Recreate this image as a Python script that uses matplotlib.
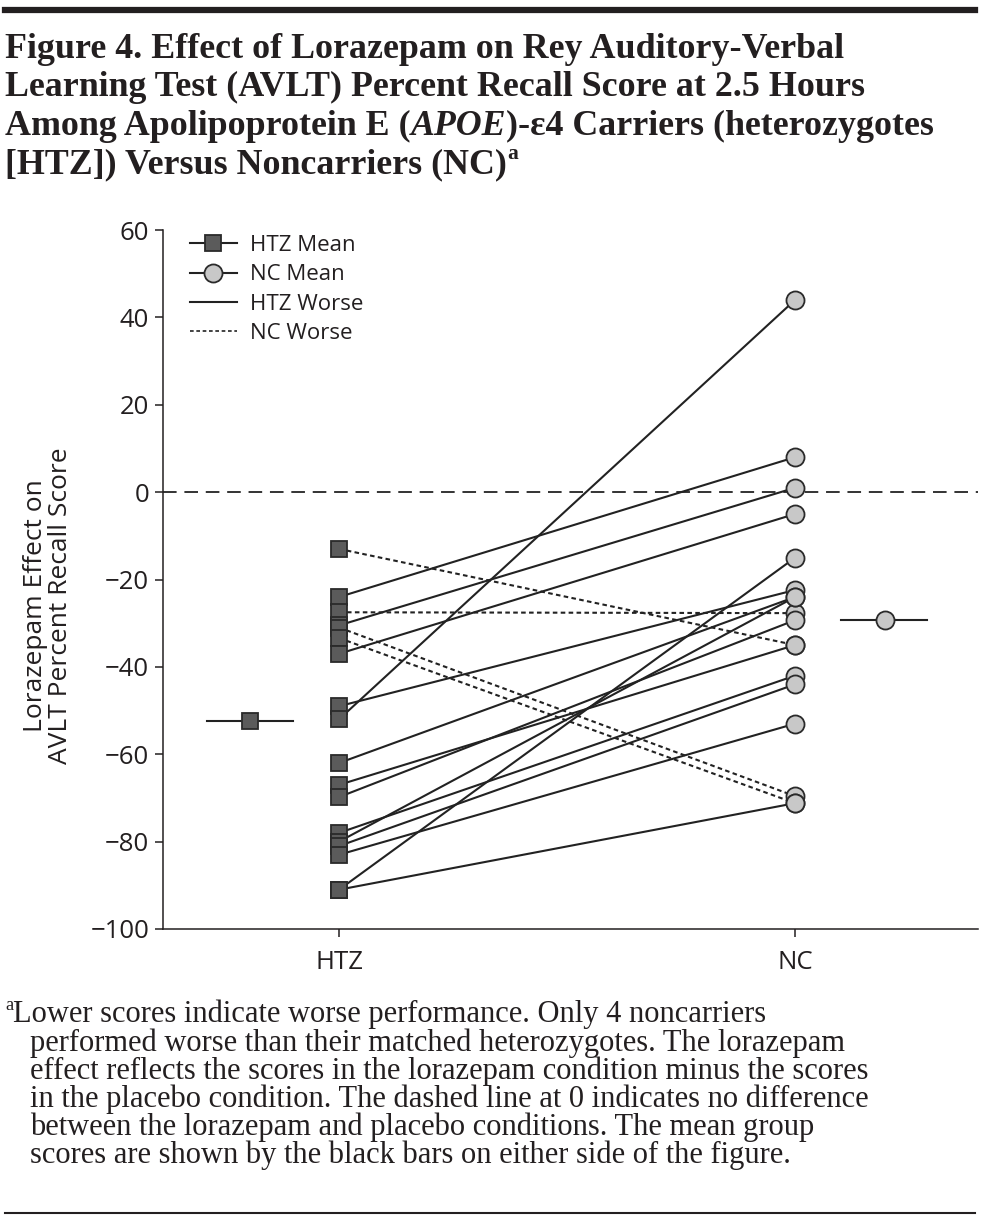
import numpy as np
import matplotlib
matplotlib.use("Agg")
import matplotlib.pyplot as plt
from matplotlib.lines import Line2D
from matplotlib.legend_handler import HandlerLine2D

# values (lorazepam minus placebo, % recall)
groups = ["HTZ", "NC"]
htz_scores = [-13, -24, -27.5, -30.5, -31, -33.4, -37, -49, -52, -62, -67, -69.8,
              -78, -80, -81, -83, -91, -91]
nc_scores = [-35, 8, -27.7, 1, -69.6, -71.2, -5, -22.4, 44, -24, -35, -29.3,
             -42, -24, -44, -53, -15, -71.2]
htz_mean = -52.3
nc_mean = -29.2
yticks = [-100, -80, -60, -40, -20, 0, 20, 40, 60]

title_lines = [
    [("Figure 4. Effect of Lorazepam on Rey Auditory-Verbal", {})],
    [("Learning Test (AVLT) Percent Recall Score at 2.5 Hours", {})],
    [("Among Apolipoprotein E (", {}), ("APOE", {"style": "italic"}),
     (")-\u03b54 Carriers (heterozygotes", {})],
    [("[HTZ]) Versus Noncarriers (NC)", {}), ("a", {"sup": True})],
]
note_lines = [
    "Lower scores indicate worse performance. Only 4 noncarriers",
    "performed worse than their matched heterozygotes. The lorazepam",
    "effect reflects the scores in the lorazepam condition minus the scores",
    "in the placebo condition. The dashed line at 0 indicates no difference",
    "between the lorazepam and placebo conditions. The mean group",
    "scores are shown by the black bars on either side of the figure.",
]

W, H = 984, 1225
SANS = ["Open Sans", "DejaVu Sans"]
SERIF = ["Liberation Serif", "DejaVu Serif"]
INK = "#231f20"

fig = plt.figure(figsize=(W / 100, H / 100), dpi=100)
renderer = fig.canvas.get_renderer()


def px(x, y):
    return x / W, 1 - y / H


def rich(x, y, parts, size, weight="normal"):
    # draw text pieces one after another on a baseline (pixel coords)
    for txt, opt in parts:
        fs = size * 0.6 if opt.get("sup") else size
        yy = y - size * 0.55 if opt.get("sup") else y
        t = fig.text(*px(x, yy), txt, fontsize=fs, family=SERIF, color=INK,
                     weight=weight, style=opt.get("style", "normal"),
                     va="baseline", ha="left")
        x = t.get_window_extent(renderer).x1


class ShortLine(HandlerLine2D):
    # line-only legend keys are drawn shorter than the marker keys
    def create_artists(self, legend, orig_handle, xdescent, ydescent, width,
                       height, fontsize, trans):
        arts = super().create_artists(legend, orig_handle, xdescent, ydescent,
                                      width, height, fontsize, trans)
        pad = 0.2 * width
        for a in arts:
            x = a.get_xdata()
            if len(x) == 2:
                a.set_xdata([x[0] + pad, x[1] - pad])
        return arts


# rules
fig.add_artist(Line2D([5 / W, 975 / W], [1 - 10 / H] * 2, color=INK, lw=4.5))
fig.add_artist(Line2D([5 / W, 975 / W], [1 - 1213 / H] * 2, color=INK, lw=1.5))

for i, parts in enumerate(title_lines):
    rich(5, 58 + i * 38.5, parts, 25.8, weight="bold")

rich(5, 1022, [("a", {"sup": True}), (note_lines[0], {})], 22)
for i, line in enumerate(note_lines[1:]):
    rich(30, 1050.5 + i * 28.2, [(line, {})], 22)

# main panel
ax = fig.add_axes([163 / W, 1 - 929 / H, (978 - 163) / W, (929 - 230) / H])
xpos = np.arange(1, len(groups) + 1)

ax.axhline(0, color="#333333", lw=1.4, ls=(0, (7, 4)), zorder=1)

for h, n in zip(htz_scores, nc_scores):
    ls = (0, (2.2, 1.6)) if n < h else "-"
    ax.plot(xpos, [h, n], color="#222222", lw=1.5, ls=ls, zorder=2)

ax.plot(np.full(len(htz_scores), xpos[0]), htz_scores, ls="none", marker="s",
        ms=11.5, mfc="#5b5b5b", mec="#2a2a2a", mew=1.3, zorder=3)
ax.plot(np.full(len(nc_scores), xpos[1]), nc_scores, ls="none", marker="o",
        ms=13, mfc="#c8c8c8", mec="#2a2a2a", mew=1.3, zorder=3)

# group means with bars
ax.plot([xpos[0] - 0.29, xpos[0] - 0.10], [htz_mean, htz_mean], color="#222222", lw=1.5)
ax.plot([xpos[0] - 0.195], [htz_mean], marker="s", ms=11.5, mfc="#5b5b5b",
        mec="#2a2a2a", mew=1.3)
ax.plot([xpos[1] + 0.10, xpos[1] + 0.29], [nc_mean, nc_mean], color="#222222", lw=1.5)
ax.plot([xpos[1] + 0.197], [nc_mean], marker="o", ms=13, mfc="#c8c8c8",
        mec="#2a2a2a", mew=1.3)

ax.set_xlim(0.614, 2.401)
ax.set_ylim(-100, 60)
ax.set_yticks(yticks)
ax.set_xticks(xpos)
ax.set_xticklabels(groups)
for s in ["top", "right"]:
    ax.spines[s].set_visible(False)
for s in ["left", "bottom"]:
    ax.spines[s].set_linewidth(1.1)
    ax.spines[s].set_color(INK)
ax.tick_params(length=6, width=1.1, color=INK, labelsize=18.5, labelcolor=INK, pad=4)
for lab in ax.get_xticklabels() + ax.get_yticklabels():
    lab.set_family(SANS)
ax.tick_params(axis="x", pad=9)

fig.text(*px(48, 606), "Lorazepam Effect on\nAVLT Percent Recall Score",
         rotation=90, ha="center", va="center", fontsize=19, family=SANS,
         color=INK, linespacing=1.0)

handles = [
    Line2D([], [], color="#222222", lw=1.5, marker="s", ms=11.5, mfc="#5b5b5b",
           mec="#2a2a2a", mew=1.3),
    Line2D([], [], color="#222222", lw=1.5, marker="o", ms=13, mfc="#c8c8c8",
           mec="#2a2a2a", mew=1.3),
    Line2D([], [], color="#222222", lw=1.5),
    Line2D([], [], color="#222222", lw=1.2, ls=(0, (2.2, 1.6))),
]
leg = ax.legend(handles, ["HTZ Mean", "NC Mean", "HTZ Worse", "NC Worse"],
                loc="upper left", bbox_to_anchor=(0.033, 0.993), frameon=False,
                borderpad=0, borderaxespad=0,
                handlelength=2.1, handletextpad=0.6, labelspacing=0.38,
                handler_map={handles[2]: ShortLine(), handles[3]: ShortLine()},
                prop={"family": SANS, "size": 16})
for t in leg.get_texts():
    t.set_color(INK)

fig.savefig("out.png", dpi=100)
